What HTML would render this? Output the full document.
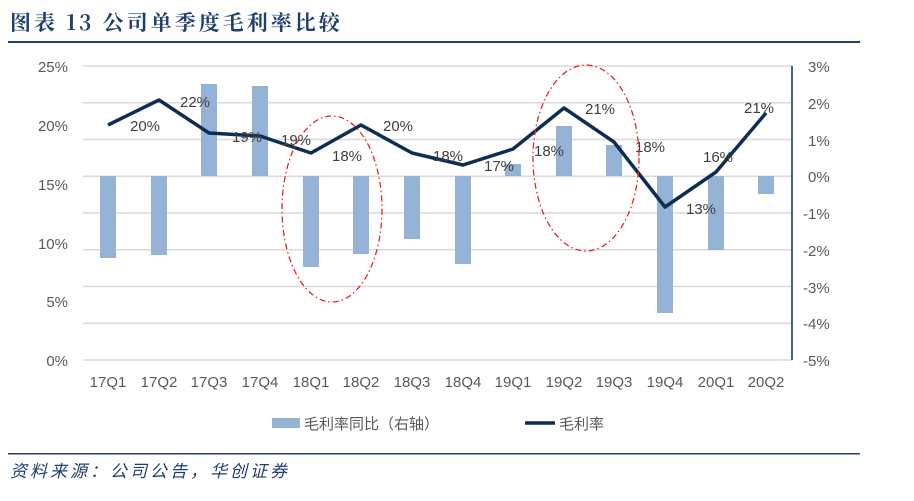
<!DOCTYPE html>
<html><head><meta charset="utf-8"><style>
body{margin:0;background:#fff;width:914px;height:496px;overflow:hidden;font-family:"Liberation Sans","Noto Sans CJK SC",sans-serif}
</style></head><body>
<svg width="914" height="496" xmlns="http://www.w3.org/2000/svg" font-family="Liberation Sans, Noto Sans CJK SC, sans-serif">
<text x="10" y="30" font-size="21" font-weight="bold" fill="#1f3f6e" letter-spacing="3" font-family="Noto Serif CJK SC, serif">图表 13 公司单季度毛利率比较</text>
<rect x="8" y="41" width="852" height="2" fill="#1f3f6e"/>
<g stroke="#d9d9d9" stroke-width="1.5">
<line x1="83" x2="792" y1="66" y2="66"/><line x1="83" x2="792" y1="102.75" y2="102.75"/><line x1="83" x2="792" y1="139.5" y2="139.5"/><line x1="83" x2="792" y1="176.25" y2="176.25"/><line x1="83" x2="792" y1="213" y2="213"/><line x1="83" x2="792" y1="249.75" y2="249.75"/><line x1="83" x2="792" y1="286.5" y2="286.5"/><line x1="83" x2="792" y1="323.25" y2="323.25"/><line x1="83" x2="792" y1="360" y2="360"/>
</g>
<line x1="792" x2="792" y1="66" y2="360" stroke="#41628a" stroke-width="2"/>
<g font-size="15" fill="#595959" text-anchor="end">
<text x="68" y="72">25%</text><text x="68" y="131">20%</text><text x="68" y="190">15%</text><text x="68" y="249">10%</text><text x="68" y="307">5%</text><text x="68" y="366">0%</text>
</g>
<g font-size="15" fill="#595959">
<text x="808" y="72">3%</text><text x="808" y="109">2%</text><text x="808" y="146">1%</text><text x="808" y="182">0%</text><text x="803" y="219">-1%</text><text x="803" y="256">-2%</text><text x="803" y="293">-3%</text><text x="803" y="329">-4%</text><text x="803" y="366">-5%</text>
</g>
<g fill="#95b3d7">
<rect x="100" y="176" width="16" height="82"/><rect x="151" y="176" width="16" height="79"/><rect x="201" y="84" width="16" height="92"/><rect x="252" y="86" width="16" height="90"/><rect x="303" y="176" width="16" height="91"/><rect x="353" y="176" width="16" height="78"/><rect x="404" y="176" width="16" height="63"/><rect x="455" y="176" width="16" height="88"/><rect x="505" y="164" width="16" height="12"/><rect x="556" y="126" width="16" height="50"/><rect x="606" y="145" width="16" height="31"/><rect x="657" y="176" width="16" height="137"/><rect x="708" y="176" width="16" height="74"/><rect x="758" y="176" width="16" height="18"/>
</g>
<polyline fill="none" stroke="#0e2d52" stroke-width="3.5" stroke-linejoin="round" points="108,125 159,100 209,133 260,136 311,153 361,125 412,153 463,165 513,149 564,108 614,142 665,207 716,172 766,113"/>
<g font-size="15" fill="#404040">
<text x="130" y="131">20%</text><text x="180" y="107">22%</text><text x="232" y="142">19%</text><text x="281" y="145">19%</text><text x="332" y="161">18%</text><text x="383" y="131">20%</text><text x="433" y="161">18%</text><text x="484" y="171">17%</text><text x="534" y="156">18%</text><text x="585" y="114">21%</text><text x="635" y="152">18%</text><text x="686" y="214">13%</text><text x="703" y="162">16%</text><text x="744" y="113">21%</text>
</g>
<g fill="none" stroke="#e8232a" stroke-width="1.3" stroke-dasharray="6,3,1.5,3">
<ellipse cx="332" cy="209" rx="50" ry="93"/><ellipse cx="586" cy="158" rx="53" ry="93"/>
</g>
<g font-size="15" fill="#595959" text-anchor="middle">
<text x="108" y="387">17Q1</text><text x="159" y="387">17Q2</text><text x="209" y="387">17Q3</text><text x="260" y="387">17Q4</text><text x="311" y="387">18Q1</text><text x="361" y="387">18Q2</text><text x="412" y="387">18Q3</text><text x="463" y="387">18Q4</text><text x="513" y="387">19Q1</text><text x="564" y="387">19Q2</text><text x="614" y="387">19Q3</text><text x="665" y="387">19Q4</text><text x="716" y="387">20Q1</text><text x="766" y="387">20Q2</text>
</g>
<rect x="272" y="418" width="28" height="10" fill="#95b3d7"/>
<text x="304" y="429" font-size="15" fill="#595959">毛利率同比（右轴）</text>
<line x1="525" x2="555" y1="423" y2="423" stroke="#0e2d52" stroke-width="3.5"/>
<text x="559" y="429" font-size="15" fill="#595959">毛利率</text>
<rect x="8" y="453" width="852" height="1.5" fill="#1f3f6e"/>
<text x="10" y="477" font-size="17" font-style="italic" letter-spacing="3" fill="#1f3f6e">资料来源：公司公告，华创证券</text>
</svg>
</body></html>
